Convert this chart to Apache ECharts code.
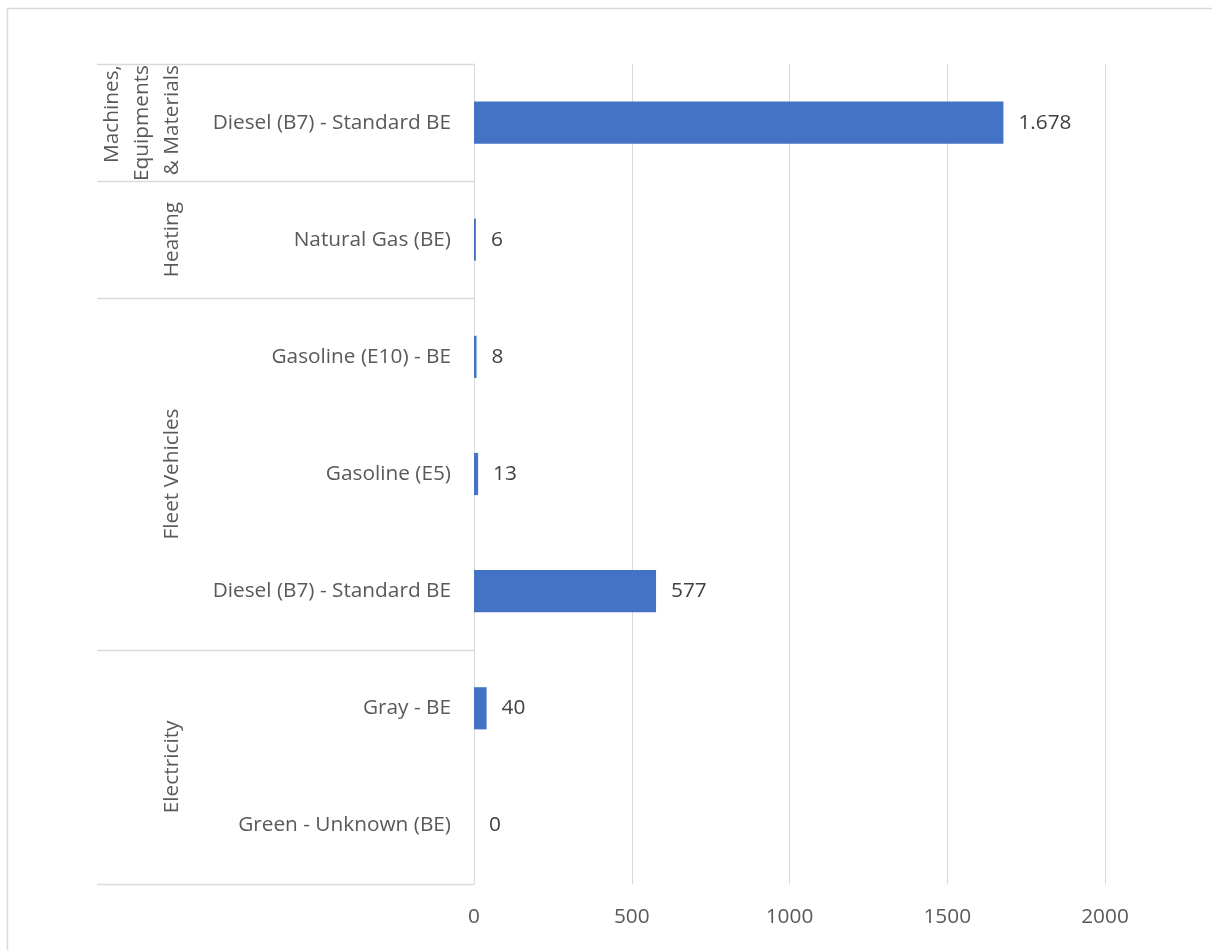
<!DOCTYPE html>
<html>
<head>
<meta charset="utf-8">
<script src="https://cdn.jsdelivr.net/npm/echarts@6/dist/echarts.min.js"></script>
<style>
  html, body { margin: 0; padding: 0; background: #ffffff; }
  #main { width: 1212px; height: 950px; }
</style>
</head>
<body>
<div id="main"></div>
<script>
// ---- data ----
const categories = [
  'Diesel (B7) - Standard BE',
  'Natural Gas (BE)',
  'Gasoline (E10) - BE',
  'Gasoline (E5)',
  'Diesel (B7) - Standard BE',
  'Gray - BE',
  'Green - Unknown (BE)'
];
const values = [1678, 6, 8, 13, 577, 40, 0];
const groupNames = ['Machines,\nEquipments\n& Materials', 'Heating', 'Fleet Vehicles', 'Electricity'];
const groupSizes = [1, 1, 3, 2];
const xTicks = [0, 500, 1000, 1500, 2000];

const FONT = 'Open Sans';
const FS = 20.8;

function fmt(v) {
  return String(Math.round(v)).replace(/\B(?=(\d{3})+(?!\d))/g, '.');
}

const chart = echarts.init(document.getElementById('main'), null, { renderer: 'canvas' });

const option = {
  backgroundColor: '#ffffff',
  animation: false,
  grid: { left: 474, right: 107, top: 64, bottom: 66, containLabel: false },
  xAxis: {
    type: 'value',
    min: xTicks[0],
    max: xTicks[xTicks.length - 1],
    interval: xTicks[1] - xTicks[0],
    axisLine: { show: false },
    axisTick: { show: false },
    splitLine: { show: true, lineStyle: { color: '#d9d9d9', width: 1 } },
    axisLabel: { color: '#595959', fontFamily: FONT, fontSize: FS, margin: 23, formatter: v => String(v) }
  },
  yAxis: {
    type: 'category',
    inverse: true,
    data: categories,
    axisLine: { show: true, lineStyle: { color: '#d9d9d9', width: 1 } },
    axisTick: { show: false },
    axisLabel: { color: '#595959', fontFamily: FONT, fontSize: FS, margin: 23 }
  },
  series: [{
    type: 'bar',
    data: values,
    barWidth: '36%',
    itemStyle: { color: '#4472C4' },
    label: {
      show: true,
      position: 'right',
      distance: 15,
      color: '#404040',
      fontFamily: FONT,
      fontSize: FS,
      formatter: p => fmt(p.value)
    }
  }]
};
chart.setOption(option);

// measure text
const mctx = document.createElement('canvas').getContext('2d');
mctx.font = FS + 'px "' + FONT + '"';
function textW(s) { return Math.max.apply(null, s.split('\n').map(l => mctx.measureText(l).width)); }

function drawGroups() {
  const y0 = chart.convertToPixel({ yAxisIndex: 0 }, 0);
  const y1 = chart.convertToPixel({ yAxisIndex: 0 }, 1);
  const band = y1 - y0;
  const top = y0 - band / 2;
  const axisX = chart.convertToPixel({ xAxisIndex: 0 }, 0);
  const lineLeft = axisX - 377;
  const labelX = axisX - 302;
  const lineH = 30;
  const elements = [];
  // outer border (top and left edges; others lie outside the picture)
  elements.push({
    type: 'line', silent: true,
    shape: { x1: 7.5, y1: 8.5, x2: 1212, y2: 8.5 },
    style: { stroke: '#d9d9d9', lineWidth: 1.5 }
  });
  elements.push({
    type: 'line', silent: true,
    shape: { x1: 7.5, y1: 8.5, x2: 7.5, y2: 950 },
    style: { stroke: '#d9d9d9', lineWidth: 1.5 }
  });
  // boundary lines
  let idx = 0;
  const bounds = [0];
  groupSizes.forEach(n => { idx += n; bounds.push(idx); });
  bounds.forEach(b => {
    const y = Math.round(top + b * band) + 0.5;
    elements.push({
      type: 'line', silent: true,
      shape: { x1: lineLeft, y1: y, x2: axisX, y2: y },
      style: { stroke: '#d9d9d9', lineWidth: 1.5 }
    });
  });
  // group labels
  groupNames.forEach((name, i) => {
    const gTop = top + bounds[i] * band;
    const gBot = top + bounds[i + 1] * band;
    const nLines = name.split('\n').length;
    const w = textW(name);
    const overflow = w > (gBot - gTop) - 8;
    const cx = labelX - (nLines - 1) * lineH / 2;
    elements.push({
      type: 'text', silent: true,
      x: cx,
      y: overflow ? gTop + 1 : (gTop + gBot) / 2,
      rotation: Math.PI / 2,
      style: {
        text: name,
        fill: '#595959',
        font: FS + 'px "' + FONT + '"',
        align: overflow ? 'right' : 'center',
        verticalAlign: 'middle',
        lineHeight: lineH
      }
    });
  });
  chart.setOption({ graphic: elements });
}
drawGroups();
</script>
</body>
</html>
